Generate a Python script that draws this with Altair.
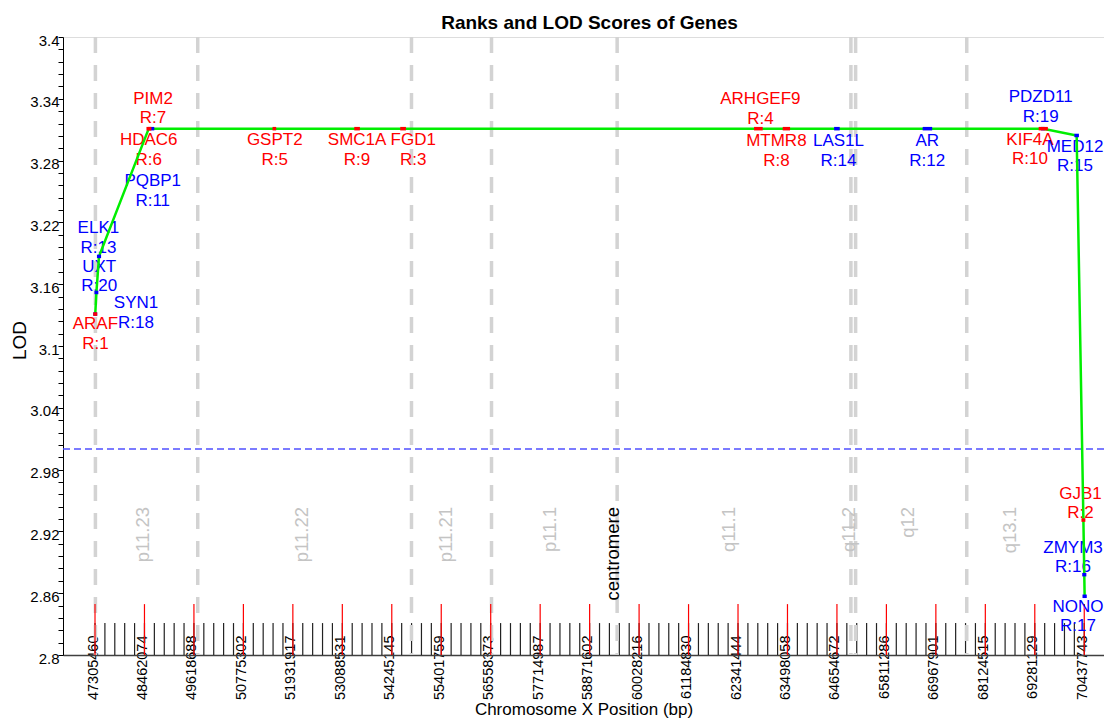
import altair as alt
import pandas as pd

FONT = "Liberation Sans"

# ---- gene data (chrX bp, LOD, rank) ----
genes = ["ARAF", "SYN1", "UXT", "ELK1", "HDAC6", "PIM2", "PQBP1", "GSPT2", "SMC1A", "FGD1",
         "ARHGEF9", "MTMR8", "LAS1L", "AR", "PDZD11", "KIF4A", "MED12", "GJB1", "ZMYM3", "NONO"]
ranks = [1, 18, 20, 13, 6, 7, 11, 5, 9, 3, 4, 8, 14, 12, 19, 10, 15, 2, 16, 17]
gene_start = [47305460, 47306000, 47333700, 47391500, 48549500, 48577200, 48645500, 51497800,
              53409100, 54484100, 62757700, 63427700, 64630000, 66700600, 69467500, 69412700,
              70248200, 70412900, 70431000, 70437743]
gene_end = [47316260, 47316000, 47342700, 47406500, 48573500, 48583200, 48650500, 51500800,
            53458100, 54535100, 62877700, 63517700, 64678000, 66840600, 69472500, 69545700,
            70272200, 70422900, 70446000, 70455743]
gene_lod = [3.131, 3.131, 3.152, 3.187, 3.311, 3.311, 3.311, 3.311, 3.311, 3.311,
            3.311, 3.311, 3.311, 3.311, 3.311, 3.311, 3.3044, 2.931, 2.878, 2.857]
label_bp = [47314800, 48264450, 47403700, 47385000, 48561500, 48662100, 48655000, 51508600,
            53433600, 54748100, 62864500, 63238700, 64691300, 66765900, 69418400, 69168100,
            70221400, 70349300, 70174600, 70291600]
label_lod = [3.1118, 3.1320, 3.1675, 3.2047, 3.2903, 3.3307, 3.2507, 3.2903, 3.2903, 3.2903,
             3.3299, 3.2895, 3.2895, 3.2895, 3.3321, 3.2909, 3.2839, 2.9473, 2.8945, 2.8375]

# ---- axis tick labels (bp) ----
tick_bp = [47305460, 48462074, 49618688, 50775302, 51931917, 53088531, 54245145, 55401759,
           56558373, 57714987, 58871602, 60028216, 61184830, 62341444, 63498058, 64654672,
           65811286, 66967901, 68124515, 69281129, 70437743]

# ---- cytogenetic bands ----
band_bounds = [47314800, 49707600, 54706000, 56577300, 59515000, 64981300, 65091300, 67689900]
band_names = ["p11.23", "p11.22", "p11.21", "p11.1", "q11.1", "q11.2", "q12", "q13.1"]
band_label_bp = [48418800, 52135500, 55517600, 57940800, 62132500, 64941500, 66323800, 68697900]
centromere_bp = [59407500]
band_label_lod = 2.9437
lod_threshold = 3.0

X_MIN, X_MAX = 46556980, 70899560
Y_MIN, Y_MAX = 2.8, 3.4

XS = alt.Scale(domain=[X_MIN, X_MAX], nice=False, zero=False)
YS = alt.Scale(domain=[Y_MIN, Y_MAX], nice=False, zero=False)

gdf = pd.DataFrame({"gene": genes, "rank": ranks, "start": gene_start, "end": gene_end,
                    "lod": gene_lod, "lab_x": label_bp, "lab_y": label_lod})
gdf["mid"] = (gdf["start"] + gdf["end"]) / 2
gdf["label"] = gdf["gene"] + "\nR:" + gdf["rank"].astype(str)

# axis tick geometry
major = pd.DataFrame({"bp": tick_bp, "y0": Y_MIN, "y1": 2.8494})
minor_bp = []
for i in range(len(tick_bp) - 1):
    for k in range(5):
        minor_bp.append(tick_bp[i] + k * (tick_bp[i + 1] - tick_bp[i]) / 5)
minor_bp.append(tick_bp[-1])
minor = pd.DataFrame({"bp": minor_bp, "y0": Y_MIN, "y1": 2.831})

bands = pd.DataFrame({"bp": band_bounds, "y0": Y_MAX, "y1": Y_MIN})
blabels = pd.DataFrame({"bp": band_label_bp, "name": band_names, "y": band_label_lod})
cent = pd.DataFrame({"bp": centromere_bp, "name": ["centromere"], "y": band_label_lod})

y_ticks = [round(Y_MIN + i * 0.012, 3) for i in range(51)]

x_axis = alt.Axis(values=tick_bp, format="d", labelAngle=270, labelAlign="right",
                  labelBaseline="middle", labelPadding=-20, ticks=False, tickSize=0,
                  grid=False, domainColor="#404040", domainWidth=1.5, labelFont=FONT,
                  labelFontSize=14.5, labelColor="black", labelOverlap=False,
                  labelFlush=False, labelOffset=-2, title="Chromosome X Position (bp)",
                  titleFont=FONT, titleFontSize=17, titleFontWeight="normal",
                  titleColor="black", titleY=54, titleBaseline="middle")

y_axis = alt.Axis(values=y_ticks,
                  labelExpr="abs((datum.value-2.8)/0.06 - round((datum.value-2.8)/0.06)) < 0.01 ? format(datum.value, '.2~f') : ''",
                  tickSize=5, tickColor="black", tickWidth=1, domainColor="black",
                  domainWidth=1, labelPadding=-1, labelOffset=3, labelFont=FONT,
                  labelFontSize=15, labelColor="black", grid=False, labelOverlap=False,
                  labelFlush=False, title="LOD", titleFont=FONT, titleFontSize=19,
                  titleFontWeight="normal", titleColor="black", titleAngle=270,
                  titleX=-44, titleY=303, titleAlign="center", titleBaseline="middle")


def X(field):
    return alt.X(field, type="quantitative", scale=XS, axis=x_axis)


def Y(field):
    return alt.Y(field, type="quantitative", scale=YS, axis=y_axis)


minor_layer = alt.Chart(minor).mark_rule(color="#222222", strokeWidth=1.2).encode(
    x=X("bp"), y=Y("y0"), y2="y1:Q")

band_layer = alt.Chart(bands).mark_rule(color="#d3d3d3", strokeWidth=3.5,
                                        strokeDash=[16, 12]).encode(
    x=X("bp"), y=Y("y0"), y2="y1:Q")

major_layer = alt.Chart(major).mark_rule(color="#ff0000", strokeWidth=1.2).encode(
    x=X("bp"), y=Y("y0"), y2="y1:Q")

blabel_layer = alt.Chart(blabels).mark_text(angle=270, align="right", baseline="middle",
                                            font=FONT, fontSize=18.5, color="#c4c4c4").encode(
    x=X("bp"), y=Y("y"), text="name:N")

cent_layer = alt.Chart(cent).mark_text(angle=270, align="right", baseline="middle",
                                       font=FONT, fontSize=18.5, color="black").encode(
    x=X("bp"), y=Y("y"), text="name:N")

thr_layer = alt.Chart(pd.DataFrame({"lod": [lod_threshold]})).mark_rule(
    color="#5050ff", strokeWidth=1.5, strokeDash=[7, 4]).encode(y=Y("lod"))

color_cond = alt.condition("datum.rank <= 10", alt.value("#ff0000"), alt.value("#0000ff"))

label_layer = alt.Chart(gdf).mark_text(lineBreak="\n", lineHeight=19.5, font=FONT,
                                       fontSize=17, align="center", baseline="middle",
                                       dy=-9.75).encode(
    x=X("lab_x"), y=Y("lab_y"), text="label:N", color=color_cond)

line_layer = alt.Chart(gdf).mark_line(color="#00ee00", strokeWidth=2.5).encode(
    x=X("mid"), y=Y("lod"), order="mid:Q")

gene_layer = alt.Chart(gdf).mark_rule(strokeWidth=3.5, strokeCap="square").encode(
    x=X("start"), x2="end:Q", y=Y("lod"), color=color_cond,
    order=alt.Order("rank:Q", sort="descending"))

chart = alt.layer(
    minor_layer, band_layer, major_layer, blabel_layer, cent_layer, thr_layer,
    label_layer, line_layer, gene_layer
).properties(
    width=1041, height=618,
    title=alt.TitleParams("Ranks and LOD Scores of Genes", font=FONT, fontSize=19,
                          fontWeight="bold", anchor="middle", color="black", offset=0,
                          dx=6),
    padding={"left": 55, "top": 29, "right": 0, "bottom": 64},
    autosize="none",
).configure_view(strokeWidth=0, stroke="transparent").configure(background="white")

chart.save("out.html", embed_options={"renderer": "svg", "actions": False})
